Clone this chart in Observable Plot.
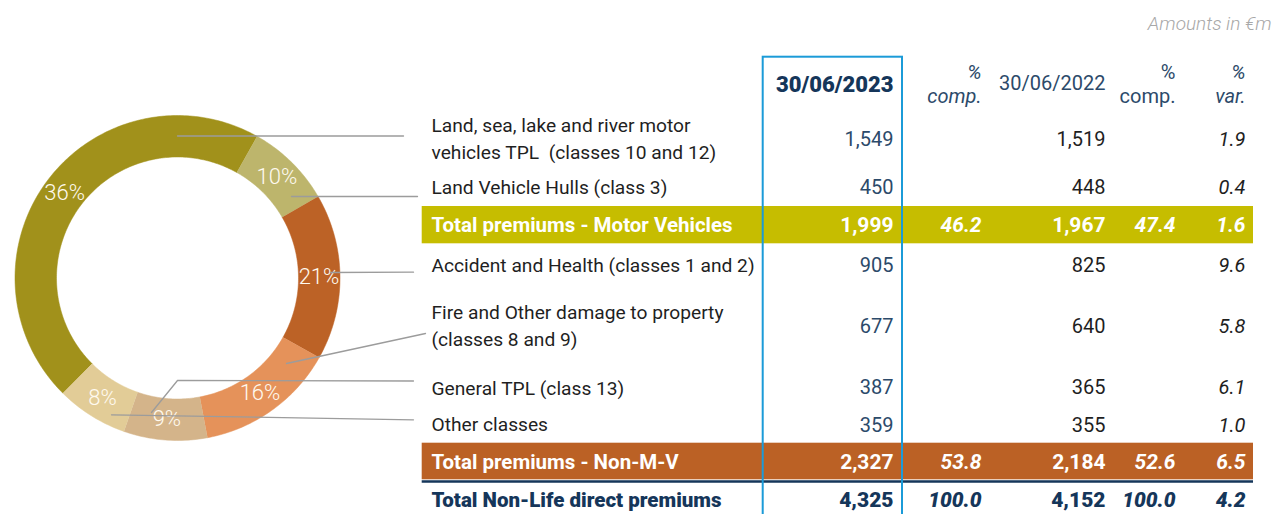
<!DOCTYPE html>
<html><head><meta charset="utf-8">
<script src="https://cdn.jsdelivr.net/npm/d3@7"></script>
<script src="https://cdn.jsdelivr.net/npm/@observablehq/plot@0.6"></script>
<style>html,body{margin:0;padding:0;background:#fff;} #chart svg{display:block;}</style>
</head><body><div id="chart"></div>
<script>
// ================= DATA =================
const sliceCategories = [
  "Land, sea, lake and river motor vehicles TPL",
  "Land Vehicle Hulls",
  "Accident and Health",
  "Fire and Other damage to property",
  "General TPL",
  "Other classes"
];
const sliceLabels = ["36%", "10%", "21%", "16%", "9%", "8%"];
// share of the ring each slice occupies as drawn in the picture
const sliceShares = [45.7, 8.5, 16.5, 13.9, 8.3, 7.1];
const sliceColors = ["#A1911B", "#BDB56C", "#BC6226", "#E5925A", "#D4B48A", "#E2CC97"];

const rowLabels = [
  "Land, sea, lake and river motor\nvehicles TPL  (classes 10 and 12)",
  "Land Vehicle Hulls (class 3)",
  "Total premiums - Motor Vehicles",
  "Accident and Health (classes 1 and 2)",
  "Fire and Other damage to property\n(classes 8 and 9)",
  "General TPL (class 13)",
  "Other classes",
  "Total premiums - Non-M-V",
  "Total Non-Life direct premiums"
];
const rowKinds = ["item", "item", "motor", "item", "item", "item", "item", "nonmv", "grand"];
const premiums2023 = [1549, 450, 1999, 905, 677, 387, 359, 2327, 4325];
const comp2023     = [null, null, 46.2, null, null, null, null, 53.8, 100.0];
const premiums2022 = [1519, 448, 1967, 825, 640, 365, 355, 2184, 4152];
const comp2022     = [null, null, 47.4, null, null, null, null, 52.6, 100.0];
const varPct       = [1.9, 0.4, 1.6, 9.6, 5.8, 6.1, 1.0, 6.5, 4.2];
const columnHeaders = ["30/06/2023", "%\ncomp.", "30/06/2022", "%\ncomp.", "%\nvar."];
const unitNote = "Amounts in €m";

// ================= LAYOUT =================
const W = 1276, H = 514;
const donut = {cx: 177, cy: 277.5, rIn: 121, rOut: 162.5, rLabel: 141.5, startDeg: -135.2};
const rowY = [136, 185, 225, 263, 323, 385.5, 422, 461.5, 500];
const numDy = [3, 2, 0, 2, 3, 2, 3, 0, 0];
const headerY = 83;
const colRight = [893, 981, 1105, 1175, 1245];
const labelX = 431;
const tableX = [421.7, 1253];
const bandY = {motor: [206, 243.3], nonmv: [442.7, 479.3]};
const bandColors = {motor: "#C6BD00", nonmv: "#BB6125"};
const ruleYpos = 481;
const box = {x1: 762.7, x2: 902, y1: 56.7, y2: 530};
const leaders = [
  [[177, 135.5], [403, 135.5]],
  [[291, 196], [417, 196]],
  [[330, 272], [413, 271.7]],
  [[286, 363], [425, 333]],
  [[151, 412], [177, 380], [413, 380.5]],
  [[111, 414.3], [413, 419.3]]
];

const font = "Roboto, 'Noto Sans', sans-serif";
const navy = "#15365a", navySoft = "#2c4a6a", ink = "#1f1f1f";

// ---- donut geometry from data via d3.pie ----
const start = donut.startDeg * Math.PI / 180;
const arcs = d3.pie().sort(null).startAngle(start).endAngle(start + 2 * Math.PI)(sliceShares);
const slicePts = [];
arcs.forEach((a, i) => {
  const n = Math.max(8, Math.ceil((a.endAngle - a.startAngle) * 180 / Math.PI));
  for (let k = 0; k <= n; k++) {
    const t = a.startAngle + (a.endAngle - a.startAngle) * k / n;
    slicePts.push({slice: sliceCategories[i], x: donut.cx + donut.rOut * Math.sin(t), y: donut.cy - donut.rOut * Math.cos(t)});
  }
  for (let k = n; k >= 0; k--) {
    const t = a.startAngle + (a.endAngle - a.startAngle) * k / n;
    slicePts.push({slice: sliceCategories[i], x: donut.cx + donut.rIn * Math.sin(t), y: donut.cy - donut.rIn * Math.cos(t)});
  }
});
const sliceLabelData = arcs.map((a, i) => {
  const m = (a.startAngle + a.endAngle) / 2;
  return {text: sliceLabels[i], x: donut.cx + donut.rLabel * Math.sin(m), y: donut.cy - donut.rLabel * Math.cos(m)};
});
const leaderPts = leaders.flatMap((pts, id) => pts.map(([x, y]) => ({id, x, y})));

// ---- table cells ----
const fmtInt = d3.format(",");
const fmtPct = d3.format(".1f");
const cells = [];
function add(x, y, text, st) { cells.push({x, y, text, textAnchor: "end", fontStyle: "normal", fontWeight: 400, lineHeight: 1, ...st}); }

// header
add(colRight[0], headerY + 1, columnHeaders[0], {fill: navy, fontWeight: 900, fontSize: 22});
add(colRight[1], headerY, columnHeaders[1], {fill: navySoft, fontStyle: "italic", fontSize: 20, lineHeight: 1.2});
add(colRight[2], headerY, columnHeaders[2], {fill: navySoft, fontSize: 20});
add(colRight[3], headerY, columnHeaders[3], {fill: navySoft, fontSize: 20, lineHeight: 1.2});
add(colRight[4], headerY, columnHeaders[4], {fill: navySoft, fontStyle: "italic", fontSize: 20, lineHeight: 1.2});
add(W - 5, 23, unitNote, {fill: "#a8a8a8", fontStyle: "italic", fontWeight: 300, fontSize: 19});

rowLabels.forEach((lab, i) => {
  const y = rowY[i], kind = rowKinds[i];
  const cols = [
    premiums2023[i] == null ? null : fmtInt(premiums2023[i]),
    comp2023[i] == null ? null : fmtPct(comp2023[i]),
    premiums2022[i] == null ? null : fmtInt(premiums2022[i]),
    comp2022[i] == null ? null : fmtPct(comp2022[i]),
    varPct[i] == null ? null : fmtPct(varPct[i])
  ];
  let labelSt, numSt, num0St, italSt;
  if (kind === "item") {
    labelSt = {fill: ink, fontSize: 19.2, lineHeight: 1.45};
    num0St = {fill: navySoft, fontSize: 20};
    numSt = {fill: ink, fontSize: 20};
    italSt = {fill: ink, fontSize: 20, fontStyle: "italic"};
  } else if (kind === "grand") {
    labelSt = {fill: navy, fontSize: 20.5, fontWeight: 900};
    num0St = numSt = {fill: navy, fontSize: 21, fontWeight: 900};
    italSt = {fill: navy, fontSize: 21, fontWeight: 900, fontStyle: "italic"};
  } else {
    labelSt = {fill: "#ffffff", fontSize: 20.5, fontWeight: 700};
    num0St = numSt = {fill: "#ffffff", fontSize: 21, fontWeight: 700};
    italSt = {fill: "#ffffff", fontSize: 21, fontWeight: 700, fontStyle: "italic"};
  }
  add(labelX, y, lab, {...labelSt, textAnchor: "start"});
  cols.forEach((t, c) => {
    if (t == null) return;
    const st = c === 0 ? num0St : (c === 2 ? numSt : italSt);
    add(colRight[c], y + numDy[i], t, st);
  });
});

const groups = d3.groups(cells, d => [d.fill, d.fontWeight, d.fontStyle, d.fontSize, d.textAnchor, d.lineHeight].join("|"));
const textMarks = groups.map(([, arr]) => Plot.text(arr, {
  x: "x", y: "y", text: "text", fill: arr[0].fill, fontWeight: arr[0].fontWeight,
  fontStyle: arr[0].fontStyle, fontSize: arr[0].fontSize, textAnchor: arr[0].textAnchor,
  lineHeight: arr[0].lineHeight, lineAnchor: "middle", fontFamily: font
}));

const bands = rowKinds.map((k, i) => ({k, i})).filter(d => bandY[d.k]);

const chart = Plot.plot({
  width: W, height: H,
  margin: 0,
  x: {domain: [0, W], range: [0, W], axis: null},
  y: {domain: [0, H], range: [0, H], axis: null},
  color: {domain: sliceCategories, range: sliceColors},
  style: {background: "#fff", overflow: "hidden"},
  marks: [
    Plot.line(slicePts, {x: "x", y: "y", z: "slice", fill: "slice", stroke: "slice", strokeWidth: 0.5, curve: "linear"}),
    Plot.text(sliceLabelData, {x: "x", y: "y", text: "text", fill: "#fffaf0", fontSize: 22, fontWeight: 300, fontFamily: font}),
    Plot.line(leaderPts, {x: "x", y: "y", z: "id", stroke: "#9c9c9c", strokeWidth: 1.3}),
    ...bands.map(b => Plot.rect([b], {x1: () => tableX[0], x2: () => tableX[1], y1: () => bandY[b.k][0], y2: () => bandY[b.k][1], fill: bandColors[b.k]})),
    Plot.ruleY([ruleYpos], {x1: tableX[0], x2: tableX[1], stroke: navy, strokeWidth: 2.5}),
    ...textMarks,
    Plot.rect([box], {x1: "x1", x2: "x2", y1: "y1", y2: "y2", fill: "none", stroke: "#1B9BD8", strokeWidth: 2})
  ]
});
document.getElementById("chart").appendChild(chart);
</script>
</body></html>
